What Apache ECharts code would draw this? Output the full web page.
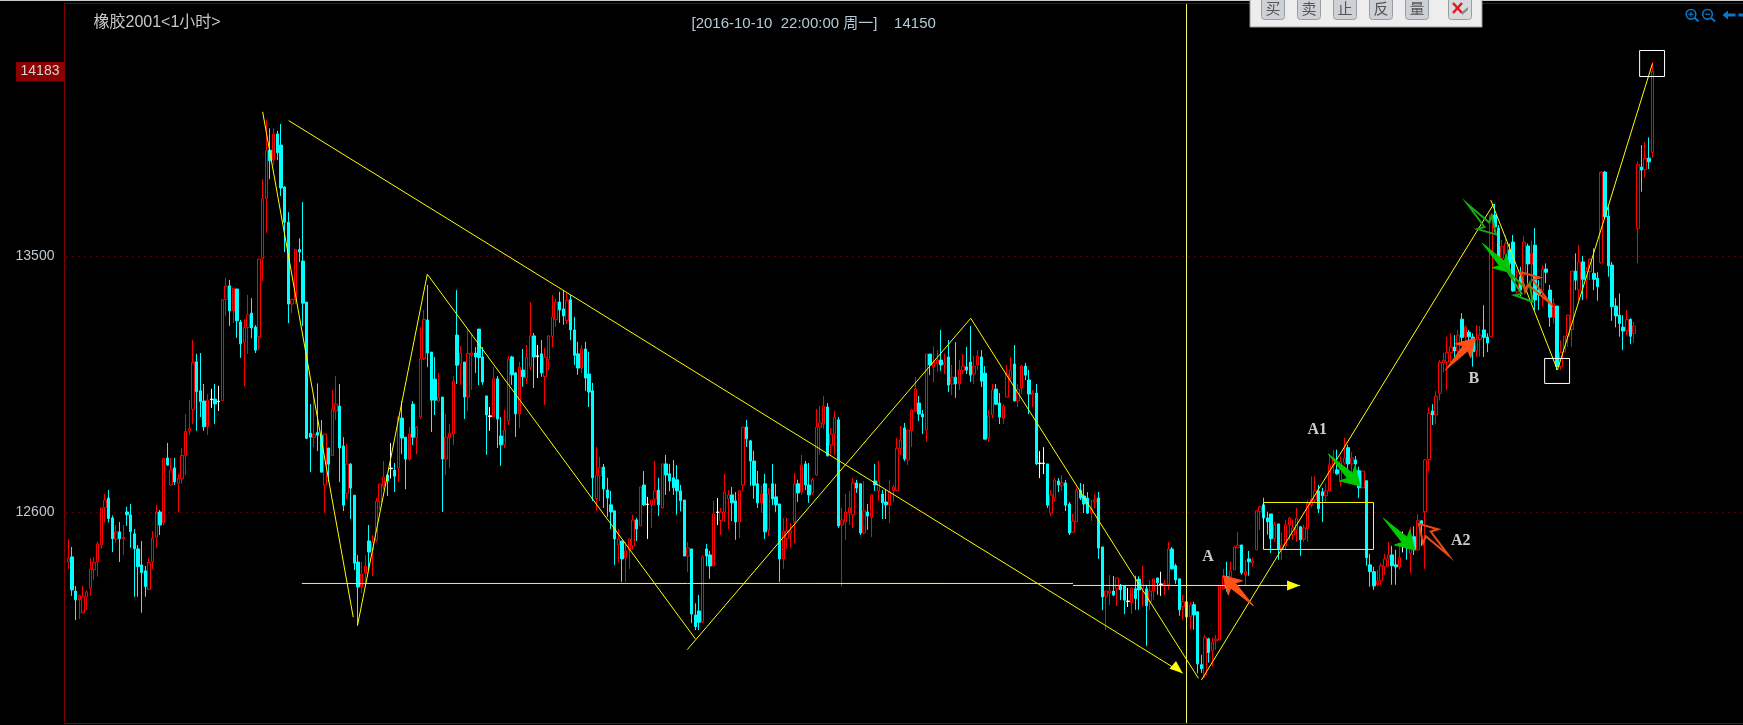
<!DOCTYPE html>
<html><head><meta charset="utf-8">
<style>html,body{margin:0;padding:0;background:#000;}#c{width:1743px;height:725px;}</style>
<script src="https://cdn.jsdelivr.net/npm/echarts@6/dist/echarts.min.js"></script>
</head><body><div id="c"></div>
<script>
const opens=[12426,12443,12323,12292,12247,12303,12332,12398,12426,12486,
12616,12650,12580,12505,12531,12507,12601,12591,12524,12471,
12415,12394,12329,12426,12512,12601,12564,12791,12696,12756,
12702,12718,12800,12887,12962,13129,13027,12991,12901,12996,
12998,12989,12993,13348,13396,13309,13385,13269,13197,13250,
13300,13251,13217,13492,13703,13873,13838,13930,13891,13743,
13620,13332,13348,13524,13483,13339,12878,12863,12880,12871,
12696,12826,12799,12956,12973,12833,12667,12769,12660,12425,
12337,12386,12499,12467,12502,12637,12692,12731,12753,12748,
12755,12931,12864,12787,12980,12862,12935,13141,13276,13163,
13068,12991,13005,12787,12862,12875,13223,13121,13128,13005,
13153,13160,13244,13146,13009,12936,12935,13069,12868,12837,
12921,13146,13090,12946,13100,13072,13110,13220,13147,13157,
13077,13137,13218,13277,13339,13315,13274,13347,13241,13157,
13107,13174,13086,13027,12647,12728,12759,12678,12626,12605,
12485,12499,12439,12468,12482,12573,12552,12696,12627,12626,
12646,12678,12615,12770,12735,12721,12714,12675,12643,12446,
12471,12239,12253,12214,12471,12450,12412,12599,12571,12600,
12647,12661,12640,12566,12696,12900,12851,12780,12700,12633,
12700,12538,12700,12654,12629,12436,12508,12524,12566,12700,
12671,12770,12696,12668,12731,12899,12910,12970,12837,12875,
12925,12555,12566,12598,12591,12703,12700,12527,12601,12582,
12710,12675,12664,12636,12626,12676,12676,12824,12896,12784,
12887,12956,12984,12945,12889,13156,13111,13123,13135,13119,
13146,13051,13075,13051,13098,13111,13128,13086,13118,13146,
13089,12861,12942,13033,12984,12931,13005,13073,13121,12991,
13037,13114,13065,13012,13019,12771,12771,12770,12597,12650,
12710,12693,12703,12629,12530,12566,12678,12657,12650,12597,
12637,12650,12478,12305,12316,12323,12330,12344,12341,12286,
12282,12331,12365,12332,12331,12285,12323,12369,12346,12345,
12345,12471,12412,12366,12268,12285,12232,12275,12250,12064,
12028,12155,12113,12148,12151,12331,12374,12373,12398,12475,
12485,12380,12436,12422,12468,12602,12626,12580,12594,12507,
12559,12471,12482,12556,12521,12538,12549,12505,12543,12626,
12644,12675,12672,12658,12675,12767,12749,12707,12773,12827,
12770,12784,12746,12686,12711,12415,12391,12345,12359,12408,
12436,12450,12415,12408,12490,12485,12456,12514,12468,12570,
12602,12785,12956,12942,13018,13126,13128,13162,13181,13167,
13279,13217,13233,13216,13168,13208,13241,13216,13217,13645,
13599,13493,13508,13522,13550,13375,13428,13434,13536,13473,
13539,13381,13380,13455,13381,13286,13325,13112,13164,13219,
13243,13448,13381,13480,13416,13446,13440,13423,13477,13796,
13641,13469,13325,13293,13251,13238,13278,13229,13598,13814,
13805,13845,13865];
const closes=[12438,12327,12292,12308,12303,12320,12401,12424,12489,12615,
12643,12578,12507,12531,12507,12512,12591,12532,12472,12409,
12388,12339,12423,12509,12600,12555,12790,12766,12749,12707,
12720,12800,12884,12895,13127,13024,12989,12901,12994,12998,
12981,12991,13347,13395,13308,13388,13273,13192,13250,13294,
13248,13170,13490,13703,13871,13836,13930,13864,13740,13620,
13332,13348,13524,13515,13335,12860,12864,12875,12871,12741,
12875,12769,12963,12980,12826,12625,12769,12685,12421,12337,
12383,12411,12460,12495,12639,12699,12724,12710,12755,12727,
12935,12861,12787,12875,12864,12899,13139,13278,13160,12994,
12994,13004,12787,12864,12878,13061,13117,13160,13005,13158,
13160,13146,13144,13058,12942,12939,13069,12928,12837,12889,
13139,13083,12946,13110,13076,13146,13220,13146,13150,13090,
13145,13220,13286,13339,13311,13290,13345,13241,13152,13107,
13174,13072,13023,12721,12731,12756,12682,12650,12601,12506,
12506,12436,12464,12506,12573,12541,12689,12626,12629,12643,
12675,12626,12770,12731,12710,12686,12675,12640,12446,12475,
12242,12198,12213,12442,12446,12411,12594,12601,12601,12671,
12661,12633,12566,12675,12899,12858,12780,12695,12633,12664,
12531,12664,12647,12626,12436,12534,12534,12534,12700,12668,
12766,12696,12661,12714,12899,12914,12973,12798,12875,12934,
12552,12573,12601,12615,12703,12685,12527,12605,12587,12661,
12696,12710,12633,12626,12671,12689,12825,12854,12787,12889,
12959,13033,12945,12935,13156,13118,13128,13135,13118,13126,
13047,13075,13051,13100,13114,13100,13082,13114,13149,13061,
12857,12938,13030,12980,12935,12973,13086,13100,12991,13032,
13114,13082,13016,13019,12770,12773,12773,12625,12661,12713,
12696,12703,12625,12527,12569,12678,12650,12629,12597,12612,
12643,12474,12302,12323,12323,12309,12369,12327,12291,12288,
12333,12296,12327,12348,12271,12323,12366,12352,12348,12350,
12471,12401,12362,12257,12285,12232,12275,12239,12067,12050,
12159,12106,12143,12154,12341,12377,12333,12393,12478,12484,
12387,12391,12426,12429,12605,12619,12580,12566,12507,12556,
12471,12485,12556,12579,12545,12580,12503,12545,12630,12647,
12675,12612,12658,12675,12767,12791,12735,12778,12791,12770,
12791,12770,12686,12745,12440,12391,12341,12359,12412,12436,
12450,12412,12408,12440,12492,12475,12475,12468,12570,12559,
12784,12948,12942,13008,13127,13134,13162,13181,13167,13223,
13215,13251,13217,13164,13208,13223,13215,13195,13645,13603,
13494,13534,13545,13475,13378,13416,13381,13550,13473,13511,
13346,13364,13455,13444,13286,13334,13112,13161,13219,13293,
13448,13416,13480,13419,13447,13489,13419,13393,13796,13639,
13466,13323,13290,13264,13237,13278,13219,13255,13823,13803,
13844,13832,14150];
const highs=[12505,12478,12341,12309,12341,12325,12438,12442,12497,12615,
12664,12678,12589,12555,12566,12555,12619,12629,12541,12485,
12499,12411,12438,12534,12626,12608,12790,12844,12790,12791,
12735,12826,12946,12995,13206,13157,13160,13051,13015,13034,
13051,13044,13350,13424,13417,13388,13385,13276,13279,13364,
13353,13258,13490,13771,13979,13950,13950,13941,13965,13747,
13655,13348,13524,13563,13691,13339,12980,13008,13053,12924,
12875,12826,13030,13079,13051,12864,12840,12773,12660,12449,
12425,12449,12555,12520,12650,12699,12780,12734,12843,12773,
12938,12991,12864,12899,12991,12903,13250,13311,13399,13163,
13146,13089,13005,12945,12910,13079,13381,13184,13128,13244,
13226,13181,13244,13181,13009,12970,13111,13079,12935,12960,
13150,13150,13093,13129,13174,13188,13339,13230,13188,13206,
13178,13223,13364,13350,13375,13378,13371,13364,13287,13199,
13188,13199,13164,13055,12830,12795,12770,12721,12675,12605,
12541,12499,12496,12506,12591,12580,12689,12745,12654,12643,
12780,12721,12770,12802,12770,12784,12766,12696,12643,12496,
12471,12280,12309,12449,12489,12464,12640,12650,12615,12735,
12678,12689,12671,12678,12899,12925,12854,12816,12745,12693,
12735,12685,12770,12700,12629,12580,12580,12562,12738,12714,
12802,12780,12773,12721,12963,12974,13009,12984,12896,12956,
12935,12615,12664,12675,12721,12714,12703,12710,12629,12664,
12770,12780,12678,12678,12714,12696,12861,12903,12914,12889,
12963,13075,13009,12959,13156,13156,13184,13170,13241,13159,
13206,13118,13198,13135,13156,13181,13255,13149,13170,13170,
13114,12959,13051,13051,13019,12980,13118,13146,13188,13051,
13118,13125,13100,13030,13051,12815,12829,12770,12678,12720,
12720,12731,12713,12636,12594,12685,12703,12699,12671,12643,
12664,12671,12478,12323,12379,12376,12369,12348,12341,12334,
12333,12377,12375,12412,12345,12362,12366,12369,12391,12362,
12496,12478,12419,12366,12310,12292,12285,12285,12250,12099,
12169,12159,12159,12169,12341,12401,12426,12426,12482,12531,
12485,12433,12464,12440,12605,12623,12651,12602,12594,12566,
12559,12528,12573,12583,12573,12616,12549,12556,12644,12726,
12726,12696,12686,12700,12802,12820,12820,12796,12861,12837,
12812,12798,12760,12747,12711,12454,12408,12398,12421,12454,
12496,12482,12468,12489,12532,12509,12548,12550,12594,12573,
12787,12970,12980,13026,13135,13161,13217,13229,13223,13241,
13300,13258,13241,13229,13258,13255,13328,13229,13645,13684,
13610,13557,13575,13545,13575,13451,13463,13571,13545,13555,
13599,13416,13469,13475,13399,13352,13325,13205,13219,13293,
13448,13510,13539,13501,13463,13494,13528,13444,13796,13800,
13674,13480,13353,13369,13293,13311,13282,13270,13834,13891,
13902,13918,14183];
const lows=[12401,12306,12221,12225,12245,12257,12306,12362,12374,12472,
12564,12564,12460,12493,12425,12450,12552,12475,12303,12303,
12247,12303,12327,12401,12475,12520,12553,12763,12693,12696,
12599,12700,12731,12872,12911,12886,12935,12886,12872,12967,
12911,12956,12991,13290,13255,13266,13213,13143,13042,13157,
13212,13160,13170,13413,13582,13771,13821,13838,13712,13515,
13265,13300,13332,13480,13255,12857,12741,12829,12815,12741,
12597,12706,12799,12924,12706,12604,12646,12576,12397,12200,
12316,12340,12397,12376,12495,12608,12678,12657,12719,12671,
12706,12804,12681,12781,12836,12804,12928,13135,13110,12882,
12942,12987,12601,12731,12755,12836,13051,13047,12928,12956,
13030,13089,13047,13048,12802,12886,12935,12826,12763,12826,
12907,13048,12865,12896,13041,13051,13100,13037,13072,13076,
12977,13100,13180,13252,13266,13259,13262,13206,13118,13083,
13089,13027,12970,12640,12605,12640,12615,12584,12541,12415,
12424,12355,12355,12401,12468,12499,12552,12622,12506,12545,
12626,12587,12613,12661,12674,12661,12591,12603,12446,12390,
12210,12186,12186,12211,12411,12366,12412,12555,12520,12566,
12541,12569,12503,12510,12675,12830,12693,12647,12615,12598,
12506,12517,12626,12601,12355,12401,12471,12475,12492,12636,
12661,12678,12633,12661,12728,12802,12893,12798,12802,12802,
12545,12339,12503,12555,12545,12668,12520,12524,12538,12513,
12675,12640,12576,12576,12562,12636,12675,12802,12780,12766,
12829,12952,12921,12875,12847,13082,13058,13094,13097,13086,
13023,13012,13002,13030,13086,13086,13058,13051,13100,13040,
12857,12847,12931,12977,12910,12910,13005,13065,12991,12970,
13016,13065,12945,12970,12766,12720,12734,12615,12587,12639,
12671,12675,12604,12520,12527,12566,12643,12597,12594,12569,
12615,12436,12256,12186,12274,12305,12270,12291,12242,12267,
12243,12257,12257,12269,12130,12257,12292,12310,12306,12310,
12327,12398,12348,12236,12222,12222,12187,12187,12034,12035,
12017,12071,12057,12116,12151,12327,12321,12327,12398,12475,
12380,12345,12377,12409,12468,12538,12573,12521,12457,12496,
12433,12433,12468,12503,12503,12496,12447,12496,12496,12616,
12632,12597,12566,12637,12672,12737,12732,12691,12767,12737,
12732,12718,12651,12686,12412,12338,12327,12339,12345,12380,
12409,12345,12345,12398,12459,12433,12386,12450,12466,12482,
12401,12745,12907,12910,12994,13091,13030,13127,13135,13135,
13194,13205,13176,13112,13146,13147,13146,13163,13217,13586,
13475,13463,13469,13451,13375,13369,13358,13416,13405,13405,
13311,13311,13323,13405,13252,13264,13100,13100,13164,13182,
13182,13381,13346,13346,13350,13416,13381,13344,13475,13634,
13428,13273,13250,13217,13170,13223,13191,13196,13475,13727,
13777,13807,13846];
const dojiIndex=[39,41,88,115,128,158,177,265,266,289,298,364];
const priceTicks=[12600,13500];
const titleText='橡胶2001<1小时>';
const infoText='[2016-10-10  22:00:00 周一]    14150';
const lastPriceLabel='14183';
const crossIndex=304.95;
// annotations in [barIndex, price]
const yellowLines=[
 [[53.0,14008],[77.7,12231]],
 [[78.9,12204],[97.9,13437]],
 [[97.9,13437],[171.0,12155]],
 [[168.8,12117],[246.1,13282]],
 [[246.1,13282],[308.2,12016]],
 [[309.0,12010],[388.7,13684]],
 [[387.9,13698],[406.1,13100]],
 [[406.1,13100],[432.0,14178]],
 [[60.1,13977],[303.9,12034]],
 [[63.7,12349.6],[274.0,12349.6]],
 [[274.0,12342.6],[335.9,12342.6]]
];
const yellowBoxes=[[325.93,12634.4,355.93,12469.2]];
const whiteBoxes=[[402.6,13140.7,409.4,13052.8],[428.5,14223.5,435.3,14132]];
const arrowTails=[[323.2,12271],[343.6,12805],[358.6,12579],[376.3,12450],[375.5,13100],[381.6,13683],[385.6,13546],[392.2,13452],[404.1,13335]];
const arrowTips=[[315.0,12376],[352.3,12692],[367.2,12467],[368.3,12559],[383.6,13212],[389.3,13577],[393.4,13442],[399.3,13340],[396.1,13444]];
const arrowColors=['#ff5018','#00c800','#00c800','#e84a18','#ff5018','#18a818','#00c800','#18a818','#e84a18'];
const arrowSolid=[1,1,1,0,1,0,1,0,0];
const headTails=[[296.0,12120],[320,12342.6]];
const headTips=[[303.9,12034],[335.9,12342.6]];
const noteTexts=['A','A1','A2','B'];
const notePoints=[[310.8,12443],[340.6,12889],[379.7,12499],[383.3,13069]];
const toolLabels=['买','卖','止','反','量'];

const step=3.667, firstX=68.3, slots=457;
const gridLeft=firstX-step/2;
const cats=Array.from({length:slots},(_,i)=>String(i));
const kdata=opens.map((o,i)=>{
  const v=[o,closes[i],lows[i],highs[i]];
  return dojiIndex.includes(i)?{value:v,itemStyle:{color:'#fff',borderColor:'#fff'}}:v;
});
const yMin=11859,yMax=14390.5;

const segSeries=(pts,color,w)=>({type:'line',xAxisIndex:1,yAxisIndex:0,data:pts,symbol:'none',silent:true,z:5,
  lineStyle:{color:color,width:w},animation:false});
const boxPts=b=>[[b[0],b[1]],[b[2],b[1]],[b[2],b[3]],[b[0],b[3]],[b[0],b[1]]];

function arrowShape(t,p){
  const dx=p[0]-t[0],dy=p[1]-t[1],L=Math.hypot(dx,dy),ux=dx/L,uy=dy/L,vx=-uy,vy=ux;
  const at=(a,b)=>[t[0]+ux*a*L+vx*b*L,t[1]+uy*a*L+vy*b*L];
  return [t,at(.68,.08),at(.6,.24),p,at(.6,-.24),at(.68,-.08)];
}
const arrowSeries={type:'custom',xAxisIndex:1,yAxisIndex:0,z:8,silent:true,animation:false,
  data:arrowTails.map((t,i)=>[t[0],t[1],arrowTips[i][0],arrowTips[i][1],i]),
  encode:{x:[0,2],y:[1,3]},clip:false,
  renderItem(params,api){
    const i=api.value(4);
    const pts=arrowShape(api.coord([api.value(0),api.value(1)]),api.coord([api.value(2),api.value(3)]));
    const c=arrowColors[i];
    return {type:'polygon',shape:{points:pts},style:arrowSolid[i]?{fill:c,stroke:c,lineWidth:1}:{fill:'rgba(0,0,0,0)',stroke:c,lineWidth:2}};
  }};
const headSeries={type:'custom',xAxisIndex:1,yAxisIndex:0,z:8,silent:true,animation:false,
  data:headTips.map((p,i)=>[headTails[i][0],headTails[i][1],p[0],p[1]]),
  encode:{x:[0,2],y:[1,3]},clip:false,
  renderItem(params,api){
    const t=api.coord([api.value(0),api.value(1)]),p=api.coord([api.value(2),api.value(3)]);
    const dx=p[0]-t[0],dy=p[1]-t[1],L=Math.hypot(dx,dy),ux=dx/L,uy=dy/L;
    const b=[p[0]-ux*13,p[1]-uy*13];
    return {type:'polygon',shape:{points:[p,[b[0]-uy*5,b[1]+ux*5],[b[0]+uy*5,b[1]-ux*5]]},style:{fill:'#ffff00'}};
  }};
const noteSeries={type:'scatter',xAxisIndex:1,yAxisIndex:0,z:9,silent:true,animation:false,symbolSize:0,
  data:notePoints.map((p,i)=>({value:p,label:{show:true,formatter:noteTexts[i],position:'inside',color:'#fff',
    fontFamily:'"Liberation Serif","DejaVu Serif",serif',fontWeight:'bold',fontSize:16}}))};

const uiFont='"Liberation Sans","Noto Sans CJK SC",sans-serif';
const frame='#800000';
const btnX=[1273,1309,1345,1381,1417];
const graphics=[
 {type:'rect',shape:{x:0,y:0,width:1743,height:1},style:{fill:'#c8c8c8'},z:20},
 {type:'rect',shape:{x:64,y:3,width:1679,height:1},style:{fill:frame},z:20},
 {type:'rect',shape:{x:64,y:3,width:1,height:721},style:{fill:frame},z:20},
 {type:'rect',shape:{x:64,y:723,width:1679,height:1},style:{fill:frame},z:20},
 {type:'text',x:93.5,y:23,style:{text:titleText,font:'16px '+uiFont,fill:'#c8c8c8',textVerticalAlign:'middle'},z:20},
 {type:'text',x:691.5,y:23.5,style:{text:infoText,font:'15px '+uiFont,fill:'#b4ccd8',textVerticalAlign:'middle'},z:20},
 {type:'rect',shape:{x:16,y:62,width:49,height:19.5},style:{fill:'#8b0000'},z:20},
 {type:'text',x:40,y:71.5,style:{text:lastPriceLabel,font:'14px '+uiFont,fill:'#d4d4d4',textAlign:'center',textVerticalAlign:'middle'},z:21},
 {type:'rect',shape:{x:1250,y:-3,width:232,height:30},style:{fill:'#ededed',stroke:'#9a9a9a',lineWidth:1},z:22}
];
btnX.forEach((x,i)=>{
 graphics.push({type:'rect',shape:{x:x-11.5,y:-4,width:23,height:23.5,r:3},style:{fill:'#cdd0d4',stroke:'#9a9da2',lineWidth:1},z:23});
 graphics.push({type:'text',x:x,y:8.5,style:{text:toolLabels[i],font:'15px "Noto Sans CJK SC",sans-serif',fill:'#555',textAlign:'center',textVerticalAlign:'middle'},z:24});
});
graphics.push({type:'rect',shape:{x:1448.5,y:-4,width:23,height:23.5,r:3},style:{fill:'#d8dadd',stroke:'#9a9da2',lineWidth:1},z:23});
graphics.push({type:'line',shape:{x1:1453,y1:3,x2:1462,y2:13},style:{stroke:'#e01828',lineWidth:2.5},z:24});
graphics.push({type:'line',shape:{x1:1462,y1:3,x2:1453,y2:13},style:{stroke:'#e01828',lineWidth:2.5},z:24});
graphics.push({type:'polygon',shape:{points:[[1462,12],[1468,7],[1468,10],[1462,15]]},style:{fill:'#888'},z:24});
const blue='#0a78c8';
[1691,1707.5].forEach((x,i)=>{
 graphics.push({type:'circle',shape:{cx:x,cy:14.3,r:4.8},style:{fill:'rgba(0,0,0,0)',stroke:blue,lineWidth:1.6},z:20});
 graphics.push({type:'line',shape:{x1:x+3.5,y1:17.8,x2:x+7.5,y2:21.5},style:{stroke:blue,lineWidth:2},z:20});
 graphics.push({type:'line',shape:{x1:x-2.5,y1:14.3,x2:x+2.5,y2:14.3},style:{stroke:blue,lineWidth:1.2},z:20});
 if(i===0)graphics.push({type:'line',shape:{x1:x,y1:11.8,x2:x,y2:16.8},style:{stroke:blue,lineWidth:1.2},z:20});
});
graphics.push({type:'polygon',shape:{points:[[1722.5,15],[1728,10.5],[1728,13.5],[1735.5,13.5],[1735.5,16.5],[1728,16.5],[1728,19.5]]},style:{fill:blue},z:20});
graphics.push({type:'rect',shape:{x:1738.5,y:13.5,width:5,height:3},style:{fill:blue},z:20});

const chart=echarts.init(document.getElementById('c'),null,{renderer:'canvas'});
chart.setOption({
 animation:false,backgroundColor:'#000',
 grid:{left:gridLeft,top:3,width:slots*step,height:720,containLabel:false},
 xAxis:[
  {type:'category',data:cats,show:false,boundaryGap:true},
  {type:'value',show:false,min:-0.5,max:slots-0.5}
 ],
 yAxis:{type:'value',min:yMin,max:yMax,position:'left',
  axisLine:{show:false},
  axisTick:{show:false,customValues:priceTicks},
  axisLabel:{customValues:priceTicks,formatter:v=>String(v),color:'#c0c8d0',fontSize:14,fontFamily:'"Liberation Sans",sans-serif',margin:12},
  splitLine:{show:true,lineStyle:{color:'#a00000',type:[1,5],width:1}}},
 series:[
  {type:'candlestick',xAxisIndex:0,yAxisIndex:0,data:kdata,barWidth:3,z:3,silent:true,
   itemStyle:{color:'#000',color0:'#00ffff',borderColor:'#ff0000',borderColor0:'#00ffff',borderWidth:1}},
  ...yellowLines.map(l=>segSeries(l,'#ffff00',1)),
  ...yellowBoxes.map(b=>segSeries(boxPts(b),'#ffff00',1)),
  ...whiteBoxes.map(b=>segSeries(boxPts(b),'#ffffff',1)),
  segSeries([[crossIndex,yMin],[crossIndex,yMax]],'#ffff66',1),
  arrowSeries,headSeries,noteSeries
 ],
 graphic:{elements:graphics}
});
</script></body></html>
